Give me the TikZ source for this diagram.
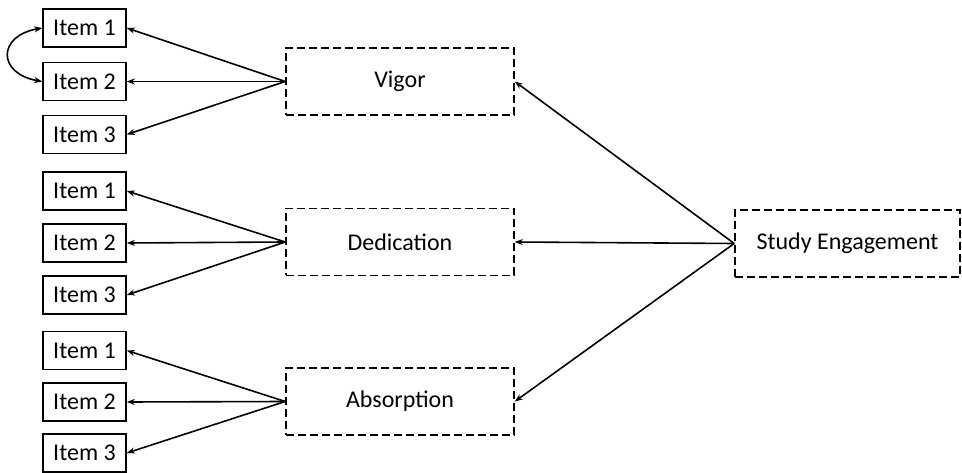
\documentclass[tikz,border=0pt]{standalone}
\usepackage{fontspec}
\setmainfont{Carlito}
\usetikzlibrary{arrows.meta}
\begin{document}
\begin{tikzpicture}[x=1pt,y=-1pt,
  every node/.style={font=\fontsize{24}{28}\selectfont},
  item/.style={draw,line width=1.6pt,minimum width=83pt,minimum height=38pt,inner sep=0pt},
  latent/.style={draw,line width=1.6pt,dash pattern=on 8pt off 4pt,minimum width=228pt,minimum height=67pt,inner sep=0pt},
  arr/.style={line width=1.6pt,-{Stealth[length=8pt,width=6pt]}},
  cov/.style={line width=1.6pt,{Stealth[length=8pt,width=6pt]}-{Stealth[length=8pt,width=6pt]}}]
\useasboundingbox (0,0) rectangle (962,473);
% items
\node[item] (a1) at (84.5,28) {Item 1};
\node[item] (a2) at (84.5,81.5) {Item 2};
\node[item] (a3) at (84.5,134.5) {Item 3};
\node[item] (b1) at (84.5,191) {Item 1};
\node[item] (b2) at (84.5,243) {Item 2};
\node[item] (b3) at (84.5,295) {Item 3};
\node[item] (c1) at (84.5,350.5) {Item 1};
\node[item] (c2) at (84.5,402) {Item 2};
\node[item] (c3) at (84.5,453) {Item 3};
% latent factors
\node[latent] (vig) at (400,81.5) {Vigor};
\node[latent] (ded) at (400,242) {Dedication};
\node[latent] (abs) at (400,401.5) {Absorption};
\node[latent,minimum width=225pt] (se) at (847.5,243.5) {Study Engagement};
% loadings
\foreach \i in {1,2,3}{
  \draw[arr] (vig.west) -- (a\i.east);
  \draw[arr] (ded.west) -- (b\i.east);
  \draw[arr] (abs.west) -- (c\i.east);
}
\draw[arr] (se.west) -- (vig.east);
\draw[arr] (se.west) -- (ded.east);
\draw[arr] (se.west) -- (abs.east);
% covariance
\draw[cov] (a1.west) .. controls +(-45,8) and +(-45,-8) .. (a2.west);
\end{tikzpicture}
\end{document}
